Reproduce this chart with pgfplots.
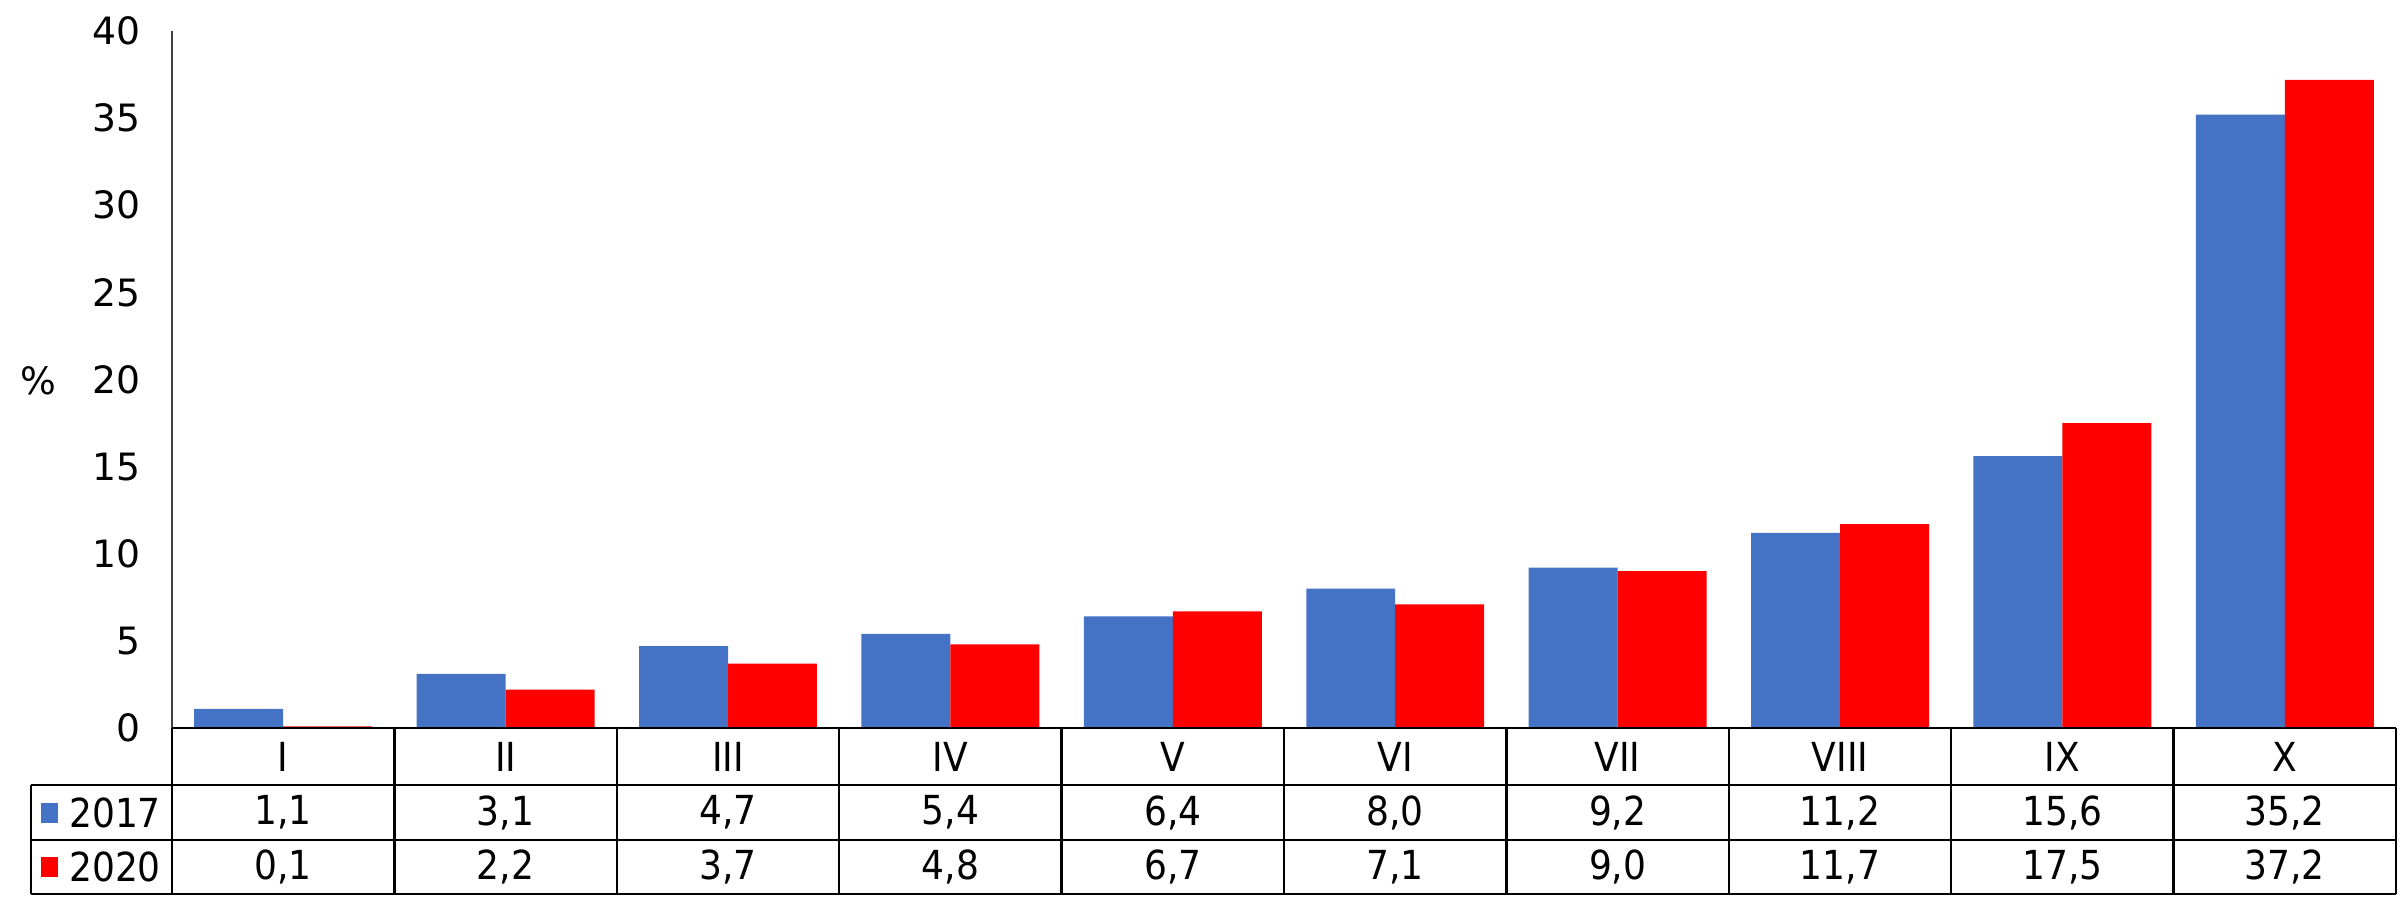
\documentclass[border=0pt]{standalone}
\usepackage{pgfplots}
\pgfplotsset{compat=1.18}
\usepackage{fontspec}
\setmainfont{DejaVu Sans}
\newfontfamily\condfont{DejaVu Sans Condensed}
\definecolor{cblue}{HTML}{4472C4}
\definecolor{cred}{HTML}{FF0000}
\begin{document}
\begin{tikzpicture}
\useasboundingbox (-51.6pt,-52.2pt) rectangle (670.8pt,218.4pt);
\begin{axis}[
  scale only axis,
  width=667.2pt, height=209.1pt,
  xmin=-0.5, xmax=9.5, ymin=0, ymax=40,
  ytick={0,5,...,40},
  xtick=\empty,
  axis x line=none,
  axis y line*=left,
  y axis line style={draw=black!75, line width=0.6pt, -},
  major tick length=0pt,
  yticklabel style={font=\fontsize{11.3}{13}\selectfont, xshift=-6pt},
  /pgf/number format/assume math mode=true,
  ybar, bar width=0.4,
  clip=false,
]
\addplot[fill=cblue, draw=none, bar shift=-0.2] coordinates {
 (0,1.1) (1,3.1) (2,4.7) (3,5.4) (4,6.4) (5,8.0) (6,9.2) (7,11.2) (8,15.6) (9,35.2)};
\addplot[fill=cred, draw=none, bar shift=0.2] coordinates {
 (0,0.1) (1,2.2) (2,3.7) (3,4.8) (4,6.7) (5,7.1) (6,9.0) (7,11.7) (8,17.5) (9,37.2)};
\end{axis}
\node[font=\fontsize{11.3}{13}\selectfont] at (-40.2pt,104.1pt) {\%};
% table grid
\begin{scope}[line width=0.75pt]
\draw (0,0) -- (667.2pt,0);
\draw (-42.3pt,-17.1pt) -- (667.2pt,-17.1pt);
\draw (-42.3pt,-33.6pt) -- (667.2pt,-33.6pt);
\draw (-42.3pt,-49.8pt) -- (667.2pt,-49.8pt);
\draw (-42.3pt,-17.1pt) -- (-42.3pt,-49.8pt);
\foreach \k in {0,...,10} {
  \draw ({\k*66.72pt},0) -- ({\k*66.72pt},-49.8pt);
}
\end{scope}
\foreach \lab [count=\i from 0] in {I,II,III,IV,V,VI,VII,VIII,IX,X} {
  \node[font=\condfont\fontsize{12}{14}\selectfont] at ({(\i+0.5)*66.72pt},-8.55pt) {\lab};
}
\foreach \v [count=\i from 0] in {{1,1},{3,1},{4,7},{5,4},{6,4},{8,0},{9,2},{11,2},{15,6},{35,2}} {
  \node[font=\condfont\fontsize{12}{14}\selectfont] at ({(\i+0.5)*66.72pt},-25.35pt) {\v};
}
\foreach \v [count=\i from 0] in {{0,1},{2,2},{3,7},{4,8},{6,7},{7,1},{9,0},{11,7},{17,5},{37,2}} {
  \node[font=\condfont\fontsize{12}{14}\selectfont] at ({(\i+0.5)*66.72pt},-41.7pt) {\v};
}
\fill[cblue] (-39.3pt,-28.35pt) rectangle ++(5pt,6pt);
\fill[cred] (-39.3pt,-44.7pt) rectangle ++(5pt,6pt);
\node[font=\condfont\fontsize{12}{14}\selectfont, anchor=west, inner sep=0pt] at (-31pt,-25.35pt) {2017};
\node[font=\condfont\fontsize{12}{14}\selectfont, anchor=west, inner sep=0pt] at (-31pt,-41.7pt) {2020};
\end{tikzpicture}
\end{document}
